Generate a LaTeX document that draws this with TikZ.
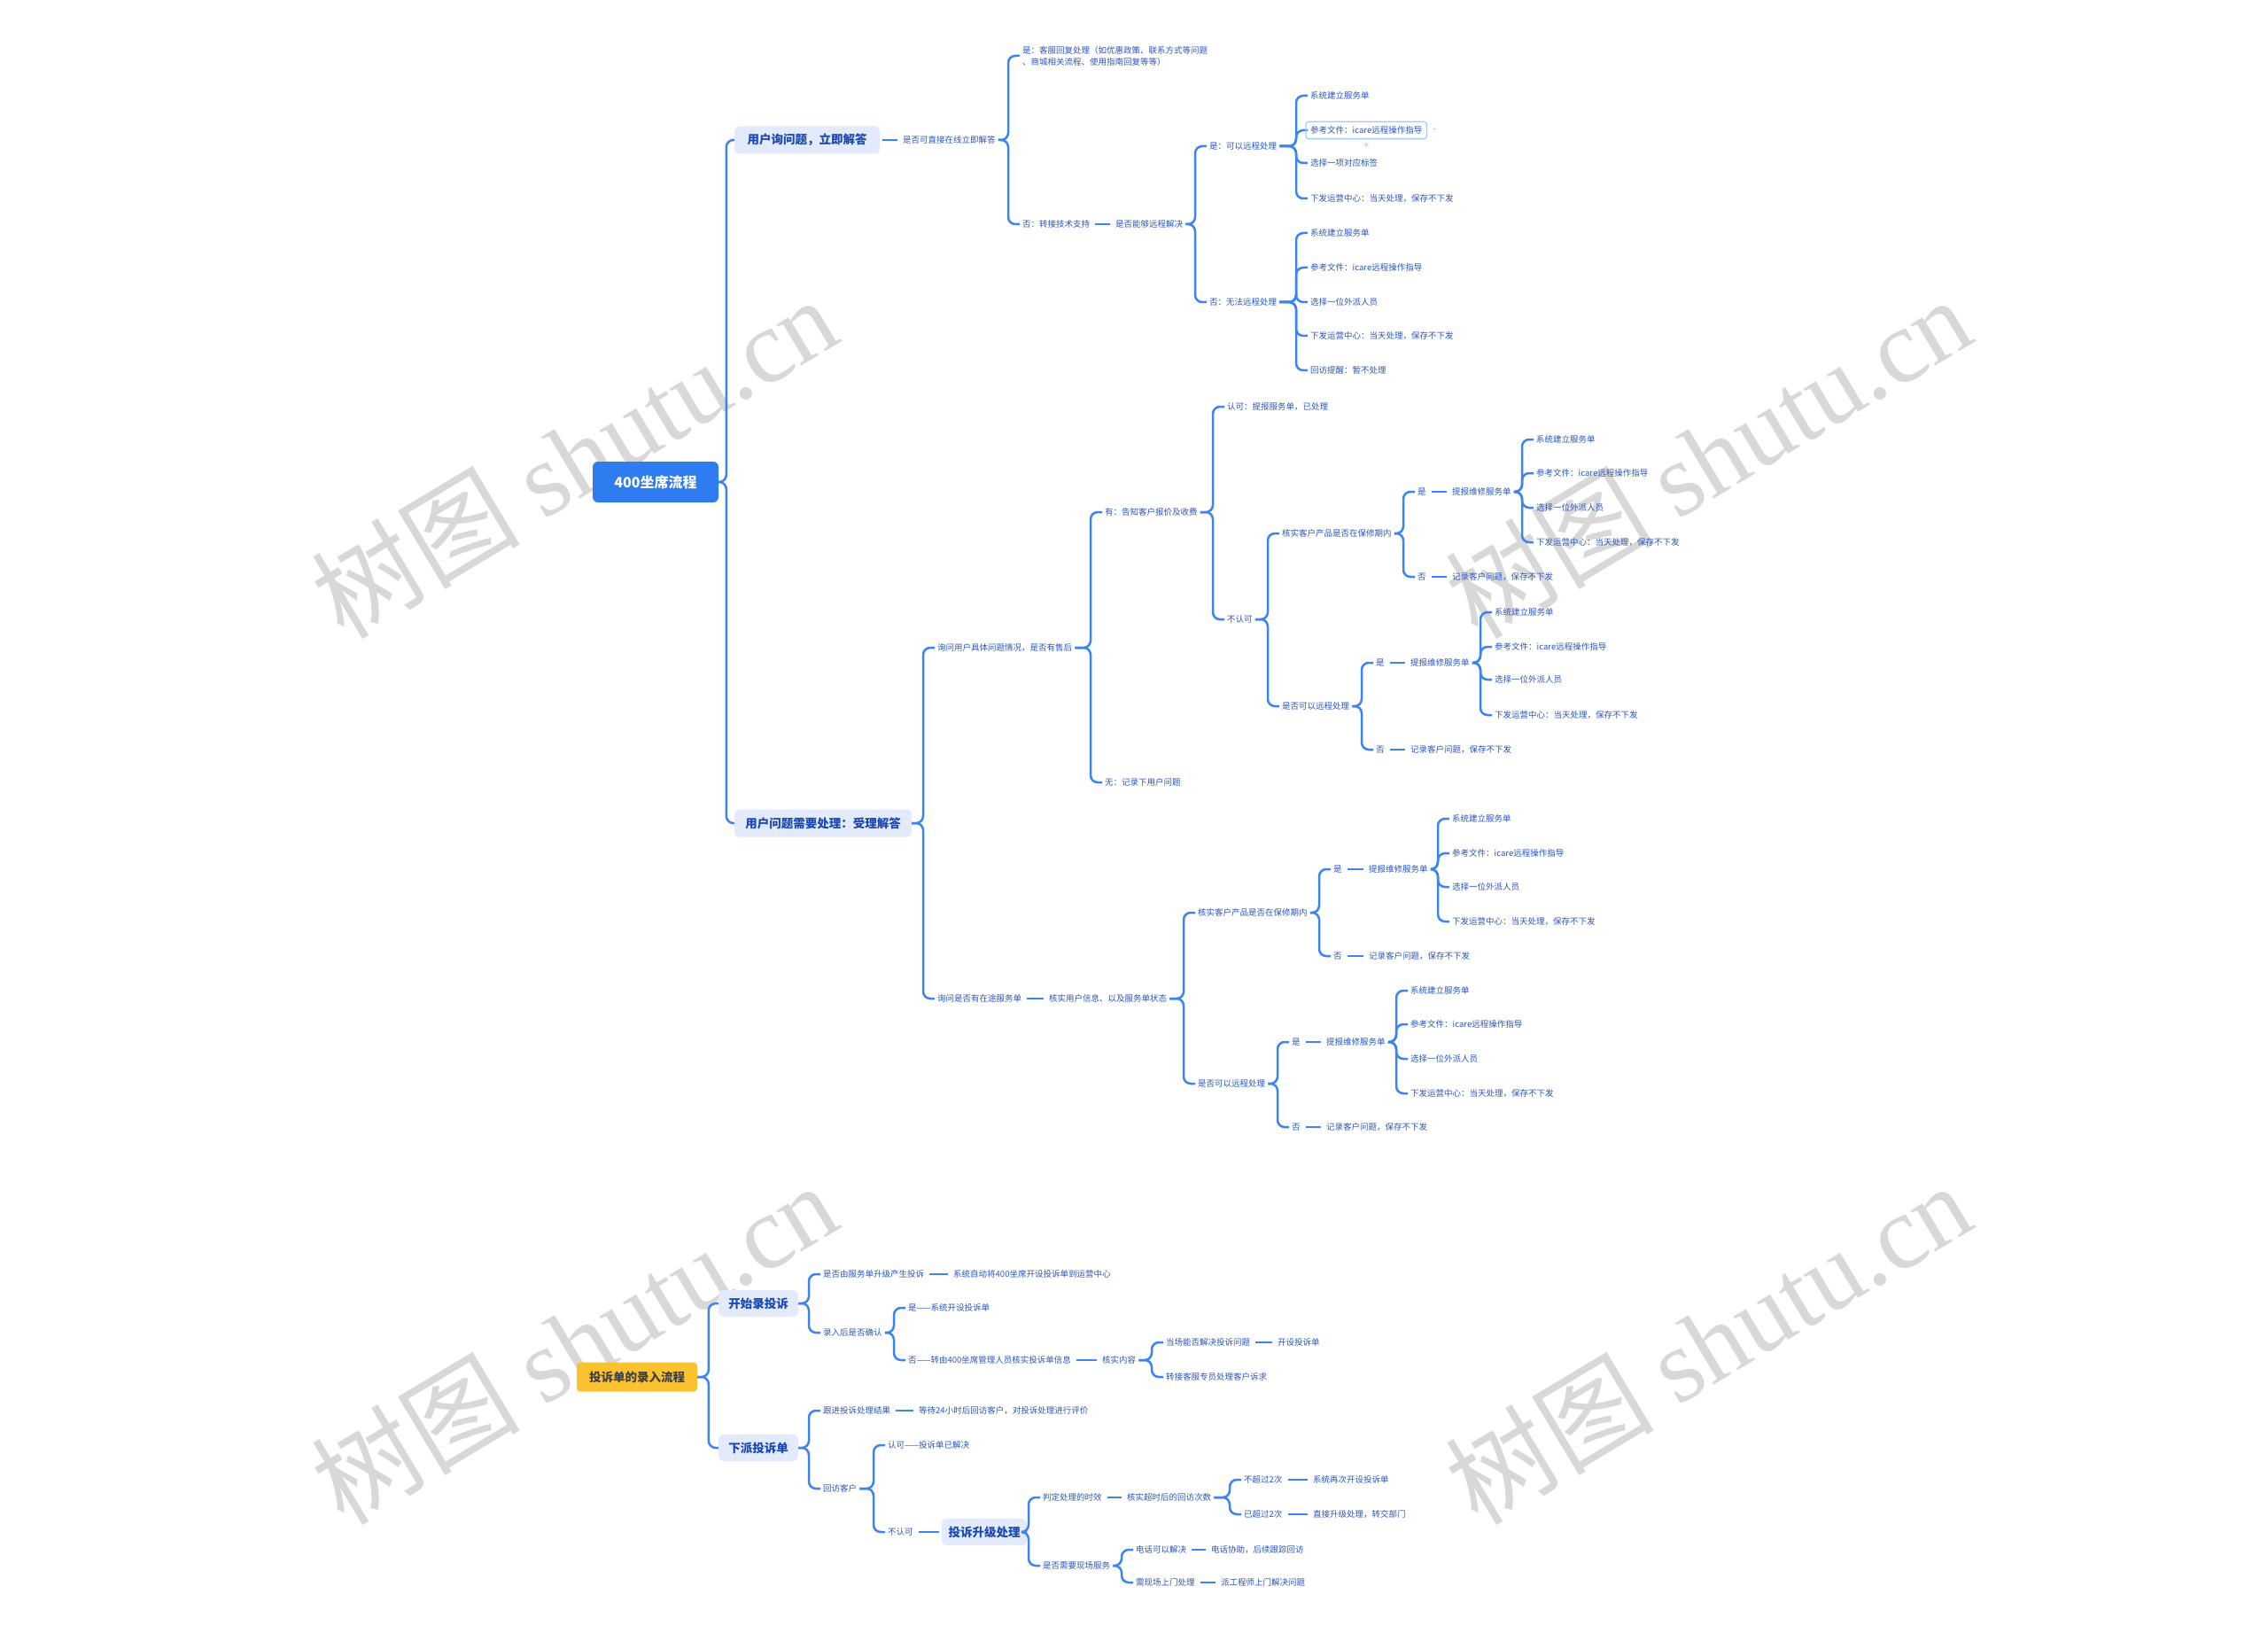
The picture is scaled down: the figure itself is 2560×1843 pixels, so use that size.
\documentclass[tikz,border=0pt]{standalone}
\usepackage{fontspec}
\setmainfont{Noto Sans CJK SC}
\newfontfamily\wmlatin{Liberation Serif}
\usetikzlibrary{fit}
\definecolor{lineblue}{HTML}{3C84F2}
\definecolor{txtblue}{HTML}{2A55C0}
\definecolor{boxfill}{HTML}{E2EAFC}
\definecolor{boxtxt}{HTML}{1A49B5}
\definecolor{rootblue}{HTML}{2E7CF0}
\definecolor{rootyellow}{HTML}{F9C22E}
\definecolor{wmgray}{HTML}{D8D8D8}
\definecolor{selblue}{HTML}{A9CBFB}
\tikzset{
  lf/.style={anchor=west, inner xsep=3pt, inner ysep=2pt, font=\fontsize{9.5}{13}\selectfont, text=txtblue},
  cn/.style={draw=lineblue, line width=2.5pt, rounded corners=8pt},
  lnk/.style={draw=lineblue, line width=2.5pt, shorten <=3pt, shorten >=3pt},
  bx/.style={fill=boxfill, rounded corners=5pt, font=\fontsize{13.5}{15}\selectfont\bfseries, text=boxtxt, minimum height=31pt, inner sep=0pt},
  rootbox/.style={fill=rootblue, rounded corners=6pt, font=\fontsize{16}{18}\selectfont\bfseries, text=white, minimum width=142pt, minimum height=46pt, inner sep=0pt},
  ybox/.style={fill=rootyellow, rounded corners=4pt, font=\fontsize{13.5}{16}\selectfont\bfseries, text=black!75, minimum width=136pt, minimum height=33pt, inner sep=0pt},
  wm/.style={text=wmgray, font=\fontsize{118}{124}\selectfont, rotate=31, inner sep=0pt}
}
\newcommand\tbr[3][13]{\draw[cn] (#2.east) -| ([xshift=-#1pt]#3.west) -- (#3.west);}
\newcommand\tlk[2]{\draw[lnk] (#1.east) -- (#2.west);}
\begin{document}
\begin{tikzpicture}[x=1pt,y=-1pt]
\fill[white] (0,0) rectangle (2560,1843);
\path[use as bounding box] (0,0) rectangle (2560,1843);

% ===== watermarks (behind) =====
\node[wm] (w1) at (648,515) {树图 {\wmlatin shutu.cn}};
\node[wm] (w2) at (1928,515) {树图 {\wmlatin shutu.cn}};
\node[wm] (w3) at (648,1515) {树图 {\wmlatin shutu.cn}};
\node[wm] (w4) at (1928,1515) {树图 {\wmlatin shutu.cn}};

% ===== top tree =====
\node[rootbox] (R) at (740,544) {400坐席流程};
\node[bx, minimum width=164pt] (A) at (911,158) {用户询问题，立即解答};
\node[bx, minimum width=200pt] (B) at (929,929) {用户问题需要处理：受理解答};
\tbr[9]{R}{A}
\tbr[9]{R}{B}

\node[lf] (A1) at (1016,158) {是否可直接在线立即解答};
\tlk{A}{A1}
\node[lf, align=left] (A11) at (1151,63) {是：客服回复处理（如优惠政策、联系方式等问题\\、商城相关流程、使用指南回复等等）};
\node[lf] (A12) at (1151,253) {否：转接技术支持};
\tbr{A1}{A11}
\tbr{A1}{A12}
\node[lf] (A121) at (1256,253) {是否能够远程解决};
\tlk{A12}{A121}
\node[lf] (P) at (1362,165) {是：可以远程处理};
\node[lf] (Q) at (1362,341) {否：无法远程处理};
\tbr{A121}{P}
\tbr{A121}{Q}
\node[lf] (P1) at (1476,108) {系统建立服务单};
\node[lf] (P2) at (1476,147) {参考文件：icare远程操作指导};
\node[lf] (P3) at (1476,184) {选择一项对应标签};
\node[lf] (P4) at (1476,224) {下发运营中心：当天处理，保存不下发};
\foreach \c in {P1,P2,P3,P4} {\tbr{P}{\c}}
\node[draw=selblue, line width=1.3pt, rounded corners=3pt, fit=(P2), inner xsep=2pt, inner ysep=3pt] (sel) {};
\node[text=selblue, font=\fontsize{9}{9}\selectfont, inner sep=0pt] (selplus) at ([xshift=8pt]sel.east) {+};
\node[circle, draw=selblue, line width=0.8pt, inner sep=1.3pt] (seldot) at ([yshift=-6pt]sel.south) {};
\node[lf] (Q1) at (1476,263) {系统建立服务单};
\node[lf] (Q2) at (1476,302) {参考文件：icare远程操作指导};
\node[lf] (Q3) at (1476,341) {选择一位外派人员};
\node[lf] (Q4) at (1476,379) {下发运营中心：当天处理，保存不下发};
\node[lf] (Q5) at (1476,418) {回访提醒：暂不处理};
\foreach \c in {Q1,Q2,Q3,Q4,Q5} {\tbr{Q}{\c}}

% branch B
\node[lf] (B1) at (1055,731) {询问用户具体问题情况，是否有售后};
\node[lf] (B2) at (1055,1127) {询问是否有在途服务单};
\tbr{B}{B1}
\tbr{B}{B2}
\node[lf] (B11) at (1244,578) {有：告知客户报价及收费};
\node[lf] (B12) at (1244,883) {无：记录下用户问题};
\tbr{B1}{B11}
\tbr{B1}{B12}
\node[lf] (B111) at (1382,459) {认可：提报服务单，已处理};
\node[lf] (B112) at (1382,699) {不认可};
\tbr{B11}{B111}
\tbr{B11}{B112}
\node[lf] (C1) at (1444,602) {核实客户产品是否在保修期内};
\node[lf] (C2) at (1444,797) {是否可以远程处理};
\tbr{B112}{C1}
\tbr{B112}{C2}
\node[lf] (C1y) at (1597,555) {是};
\node[lf] (C1n) at (1597,651) {否};
\tbr{C1}{C1y}
\tbr{C1}{C1n}
\node[lf] (C1ya) at (1636,555) {提报维修服务单};
\node[lf] (C1na) at (1636,651) {记录客户问题，保存不下发};
\tlk{C1y}{C1ya}
\tlk{C1n}{C1na}
\node[lf] (C11) at (1731,496) {系统建立服务单};
\node[lf] (C12) at (1731,534) {参考文件：icare远程操作指导};
\node[lf] (C13) at (1731,573) {选择一位外派人员};
\node[lf] (C14) at (1731,612) {下发运营中心：当天处理，保存不下发};
\foreach \c in {C11,C12,C13,C14} {\tbr{C1ya}{\c}}
\node[lf] (C2y) at (1550,748) {是};
\node[lf] (C2n) at (1550,846) {否};
\tbr{C2}{C2y}
\tbr{C2}{C2n}
\node[lf] (C2ya) at (1589,748) {提报维修服务单};
\node[lf] (C2na) at (1589,846) {记录客户问题，保存不下发};
\tlk{C2y}{C2ya}
\tlk{C2n}{C2na}
\node[lf] (C21) at (1684,691) {系统建立服务单};
\node[lf] (C22) at (1684,730) {参考文件：icare远程操作指导};
\node[lf] (C23) at (1684,767) {选择一位外派人员};
\node[lf] (C24) at (1684,807) {下发运营中心：当天处理，保存不下发};
\foreach \c in {C21,C22,C23,C24} {\tbr{C2ya}{\c}}

\node[lf] (B2a) at (1181,1127) {核实用户信息、以及服务单状态};
\tlk{B2}{B2a}
\node[lf] (D1) at (1349,1030) {核实客户产品是否在保修期内};
\node[lf] (D2) at (1349,1223) {是否可以远程处理};
\tbr{B2a}{D1}
\tbr{B2a}{D2}
\node[lf] (D1y) at (1502,981) {是};
\node[lf] (D1n) at (1502,1079) {否};
\tbr{D1}{D1y}
\tbr{D1}{D1n}
\node[lf] (D1ya) at (1542,981) {提报维修服务单};
\node[lf] (D1na) at (1542,1079) {记录客户问题，保存不下发};
\tlk{D1y}{D1ya}
\tlk{D1n}{D1na}
\node[lf] (D11) at (1636,924) {系统建立服务单};
\node[lf] (D12) at (1636,963) {参考文件：icare远程操作指导};
\node[lf] (D13) at (1636,1001) {选择一位外派人员};
\node[lf] (D14) at (1636,1040) {下发运营中心：当天处理，保存不下发};
\foreach \c in {D11,D12,D13,D14} {\tbr{D1ya}{\c}}
\node[lf] (D2y) at (1455,1176) {是};
\node[lf] (D2n) at (1455,1272) {否};
\tbr{D2}{D2y}
\tbr{D2}{D2n}
\node[lf] (D2ya) at (1494,1176) {提报维修服务单};
\node[lf] (D2na) at (1494,1272) {记录客户问题，保存不下发};
\tlk{D2y}{D2ya}
\tlk{D2n}{D2na}
\node[lf] (D21) at (1589,1118) {系统建立服务单};
\node[lf] (D22) at (1589,1156) {参考文件：icare远程操作指导};
\node[lf] (D23) at (1589,1195) {选择一位外派人员};
\node[lf] (D24) at (1589,1234) {下发运营中心：当天处理，保存不下发};
\foreach \c in {D21,D22,D23,D24} {\tbr{D2ya}{\c}}

% ===== bottom tree =====
\node[ybox] (S) at (719,1554) {投诉单的录入流程};
\node[bx, minimum width=90pt, minimum height=30pt] (S1) at (856,1471) {开始录投诉};
\node[bx, minimum width=90pt, minimum height=30pt] (S2) at (856,1634) {下派投诉单};
\tbr[11]{S}{S1}
\tbr[11]{S}{S2}
\node[lf] (E1) at (926,1438) {是否由服务单升级产生投诉};
\node[lf] (E2) at (926,1504) {录入后是否确认};
\tbr{S1}{E1}
\tbr{S1}{E2}
\node[lf] (E1a) at (1073,1438) {系统自动将400坐席开设投诉单到运营中心};
\tlk{E1}{E1a}
\node[lf] (E21) at (1022,1476) {是——系统开设投诉单};
\node[lf] (E22) at (1022,1535) {否——转由400坐席管理人员核实投诉单信息};
\tbr{E2}{E21}
\tbr{E2}{E22}
\node[lf] (E22a) at (1241,1535) {核实内容};
\tlk{E22}{E22a}
\node[lf] (E221) at (1313,1515) {当场能否解决投诉问题};
\node[lf] (E222) at (1313,1554) {转接客服专员处理客户诉求};
\tbr{E22a}{E221}
\tbr{E22a}{E222}
\node[lf] (E221a) at (1439,1515) {开设投诉单};
\tlk{E221}{E221a}

\node[lf] (F1) at (926,1592) {跟进投诉处理结果};
\node[lf] (F2) at (926,1680) {回访客户};
\tbr{S2}{F1}
\tbr{S2}{F2}
\node[lf] (F1a) at (1034,1592) {等待24小时后回访客户，对投诉处理进行评价};
\tlk{F1}{F1a}
\node[lf] (F21) at (999,1631) {认可——投诉单已解决};
\node[lf] (F22) at (999,1729) {不认可};
\tbr{F2}{F21}
\tbr{F2}{F22}
\node[bx, minimum width=96pt, minimum height=30pt] (G) at (1111,1729) {投诉升级处理};
\tlk{F22}{G}
\node[lf] (G1) at (1174,1690) {判定处理的时效};
\node[lf] (G2) at (1174,1767) {是否需要现场服务};
\tbr{G}{G1}
\tbr{G}{G2}
\node[lf] (G1a) at (1269,1690) {核实超时后的回访次数};
\tlk{G1}{G1a}
\node[lf] (G11) at (1401,1670) {不超过2次};
\node[lf] (G12) at (1401,1709) {已超过2次};
\tbr{G1a}{G11}
\tbr{G1a}{G12}
\node[lf] (G11a) at (1479,1670) {系统再次开设投诉单};
\node[lf] (G12a) at (1479,1709) {直接升级处理，转交部门};
\tlk{G11}{G11a}
\tlk{G12}{G12a}
\node[lf] (G21) at (1279,1749) {电话可以解决};
\node[lf] (G22) at (1279,1786) {需现场上门处理};
\tbr{G2}{G21}
\tbr{G2}{G22}
\node[lf] (G21a) at (1364,1749) {电话协助，后续跟踪回访};
\node[lf] (G22a) at (1375,1786) {派工程师上门解决问题};
\tlk{G21}{G21a}
\tlk{G22}{G22a}
\end{tikzpicture}
\end{document}
